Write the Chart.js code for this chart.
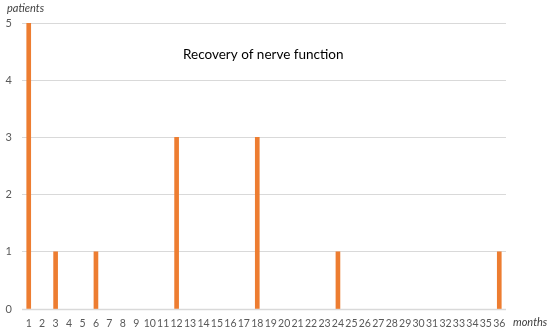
<!DOCTYPE html>
<html>
<head>
<meta charset="utf-8">
<script src="https://cdn.jsdelivr.net/npm/chart.js@4"></script>
<style>
  html, body { margin: 0; padding: 0; background: #fff; }
  #wrap { width: 550px; height: 329px; position: relative; }
</style>
</head>
<body>
<div id="wrap"><canvas id="nerveChart"></canvas></div>
<script>
const months = [];
for (let m = 1; m <= 36; m++) months.push(String(m));
const patients = [5, 0, 1, 0, 0, 1, 0, 0, 0, 0, 0, 3, 0, 0, 0, 0, 0, 3, 0, 0, 0, 0, 0, 1, 0, 0, 0, 0, 0, 0, 0, 0, 0, 0, 0, 1];
const yTicks = [0, 1, 2, 3, 4, 5];

const chartTitle = "Recovery of nerve function";
const yTitle = "patients";
const xTitle = "months";

const labelsPlugin = {
    id: "labels",
    beforeDatasetsDraw(chart) {
        // baseline at 0
        const ctx = chart.ctx;
        const area = chart.chartArea;
        const y0 = Math.round(chart.scales.y.getPixelForValue(0)) + 0.5;
        ctx.save();
        ctx.strokeStyle = "#d9d9d9";
        ctx.lineWidth = 1.5;
        ctx.beginPath();
        ctx.moveTo(area.left, y0);
        ctx.lineTo(area.right, y0);
        ctx.stroke();
        ctx.restore();
    },
    afterDraw(chart) {
        const ctx = chart.ctx;
        const area = chart.chartArea;
        ctx.save();
        ctx.fillStyle = "#000";
        ctx.font = "13.5px Lato";
        ctx.textAlign = "left";
        ctx.textBaseline = "middle";
        ctx.fillText(chartTitle, 183, 55);
        ctx.fillStyle = "#404040";
        ctx.font = "italic 11px Lato";
        ctx.fillText(yTitle, 7, 8);
        ctx.fillText(xTitle, area.right + 7, 322);
        ctx.restore();
    }
};

new Chart(document.getElementById("nerveChart"), {
    type: "bar",
    data: {
        labels: months,
        datasets: [{
            data: patients.map(v => (v === 0 ? null : v)),
            backgroundColor: "#ED7D31",
            borderWidth: 0,
            barThickness: 4
        }]
    },
    options: {
        responsive: true,
        maintainAspectRatio: false,
        animation: false,
        layout: { padding: { top: 23, right: 44, left: 0, bottom: 0 } },
        plugins: {
            legend: { display: false },
            title: { display: false },
            tooltip: { enabled: false }
        },
        scales: {
            x: {
                grid: { display: false, drawTicks: false },
                border: { display: false },
                ticks: {
                    autoSkip: false,
                    maxRotation: 0,
                    padding: 8,
                    color: "#595959",
                    font: { family: "Lato", size: 10.5 }
                },
                afterFit(scale) { scale.height = 20; }
            },
            y: {
                min: 0,
                max: 5,
                afterBuildTicks(scale) { scale.ticks = yTicks.map(v => ({ value: v })); },
                grid: { color: "#d9d9d9", drawTicks: false },
                border: { display: false },
                ticks: {
                    padding: 10,
                    color: "#595959",
                    font: { family: "Lato", size: 11 }
                },
                afterFit(scale) { scale.width = 22; }
            }
        }
    },
    plugins: [labelsPlugin]
});
</script>
</body>
</html>
